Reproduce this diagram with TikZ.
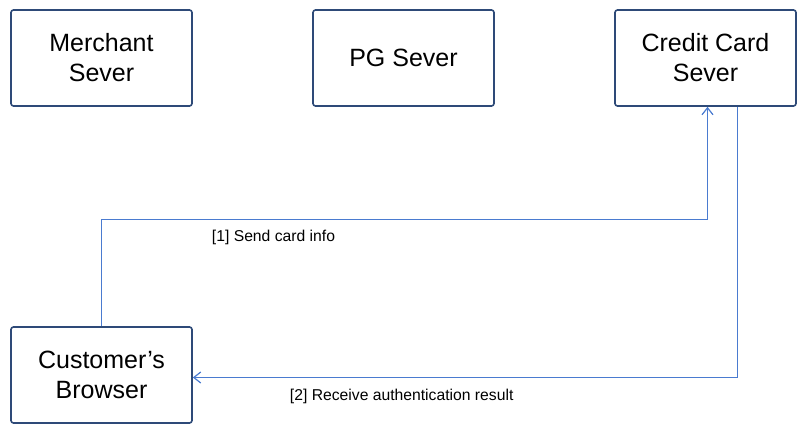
\documentclass[tikz,border=0pt]{standalone}
\usepackage{fontspec}
\setmainfont{Liberation Sans}
\usetikzlibrary{arrows.meta}
\definecolor{boxblue}{HTML}{2E4A78}
\definecolor{linkblue}{HTML}{4A7BD0}
\begin{document}
\begin{tikzpicture}[x=1pt,y=-1pt,
  server/.style={draw=boxblue,line width=1.6pt,rounded corners=2.5pt,minimum width=181pt,minimum height=96pt,inner sep=0pt,align=center,font=\fontsize{25}{30}\selectfont},
  link/.style={color=linkblue,line width=1.2pt,-{Straight Barb[length=7pt,width=11pt]}},
  lbl/.style={font=\fontsize{15.7}{18}\selectfont,inner sep=0pt}]
\useasboundingbox (0,0) rectangle (809,436);
\node[server] (merchant) at (101.5,58) {Merchant\\Sever};
\node[server] (pg) at (403.5,58) {PG Sever};
\node[server] (cc) at (705.5,58) {Credit Card\\Sever};
\node[server] (browser) at (101.5,375) {Customer’s\\Browser};
\coordinate (top) at (0,219.5);
\draw[link] (browser.north) -- (browser.north |- top) -| ([xshift=2pt]cc.south);
\draw[link] ([xshift=32pt]cc.south) |- ([yshift=-2.5pt]browser.east);
\node[lbl] (l1) at (273.5,237.5) {[1] Send card info};
\node[lbl] (l2) at (401.7,396.5) {[2] Receive authentication result};
\end{tikzpicture}
\end{document}
